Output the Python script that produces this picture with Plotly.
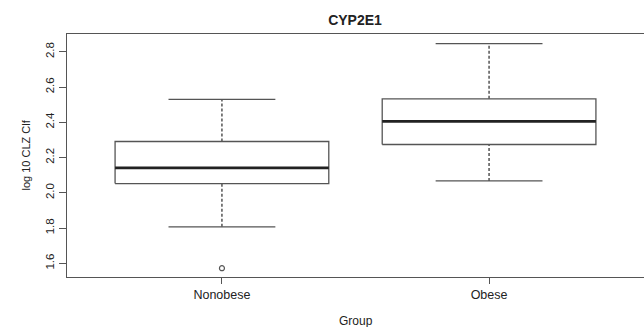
import plotly.graph_objects as go

# Data (log10 CLZ Cl/f)
groups = ["Nonobese", "Obese"]
positions = [1, 2]
lower_whisker = [1.807, 2.067]
q1 = [2.052, 2.274]
median = [2.141, 2.405]
q3 = [2.291, 2.533]
upper_whisker = [2.530, 2.846]
outlier_group = [1]
outlier_value = [1.572]

ytick_vals = [1.6, 1.8, 2.0, 2.2, 2.4, 2.6, 2.8]
ytick_text = ["1.6", "1.8", "2.0", "2.2", "2.4", "2.6", "2.8"]

LINE = "#3a3a3a"
BOX_HW = 0.4
CAP_HW = 0.2

fig = go.Figure()

for p, lw, a, m, b, uw in zip(positions, lower_whisker, q1, median, q3, upper_whisker):
    # whiskers (dashed)
    fig.add_trace(go.Scatter(x=[p, p], y=[b, uw], mode="lines",
                             line=dict(color=LINE, width=1.3, dash="3px,2px"),
                             showlegend=False, hoverinfo="skip"))
    fig.add_trace(go.Scatter(x=[p, p], y=[lw, a], mode="lines",
                             line=dict(color=LINE, width=1.3, dash="3px,2px"),
                             showlegend=False, hoverinfo="skip"))
    # caps
    fig.add_trace(go.Scatter(x=[p - CAP_HW, p + CAP_HW], y=[uw, uw], mode="lines",
                             line=dict(color="#555555", width=1.3),
                             showlegend=False, hoverinfo="skip"))
    fig.add_trace(go.Scatter(x=[p - CAP_HW, p + CAP_HW], y=[lw, lw], mode="lines",
                             line=dict(color="#555555", width=1.3),
                             showlegend=False, hoverinfo="skip"))
    # box
    fig.add_trace(go.Scatter(x=[p - BOX_HW, p + BOX_HW, p + BOX_HW, p - BOX_HW, p - BOX_HW],
                             y=[a, a, b, b, a], mode="lines",
                             line=dict(color="#555555", width=1.3),
                             showlegend=False, hoverinfo="skip"))
    # median
    fig.add_trace(go.Scatter(x=[p - BOX_HW, p + BOX_HW], y=[m, m], mode="lines",
                             line=dict(color="#222222", width=2.8),
                             showlegend=False, hoverinfo="skip"))

fig.add_trace(go.Scatter(x=outlier_group, y=outlier_value, mode="markers",
                         marker=dict(symbol="circle-open", size=5,
                                     color="#555555", line=dict(width=1.2)),
                         showlegend=False, hoverinfo="skip"))

FONT = "Liberation Sans, Arial, sans-serif"

fig.update_layout(
    width=644, height=327,
    margin=dict(l=67, r=0, t=34, b=50),
    paper_bgcolor="white", plot_bgcolor="white",
    font=dict(family=FONT, size=11, color="#222222"),
    title=dict(text="<b>CYP2E1</b>", x=355 / 644,
               xanchor="center", y=1 - 20 / 327, yanchor="middle", yref="container",
               font=dict(size=14, family=FONT, color="#222222")),
    xaxis=dict(range=[0.42, 2.58], tickvals=positions, ticktext=groups,
               showgrid=False, zeroline=False, showline=True, mirror=True,
               linecolor="#555555", linewidth=1.3, ticks="outside", ticklen=6,
               tickcolor="#555555", tickwidth=1.2, tickfont=dict(size=12.5)),
    yaxis=dict(range=[1.522, 2.901], tickvals=ytick_vals, ticktext=ytick_text,
               showgrid=False, zeroline=False, showline=True, mirror=False,
               linecolor="#555555", linewidth=1.3, ticks="outside", ticklen=7,
               tickcolor="#555555", tickwidth=1.2, tickangle=-90,
               tickfont=dict(size=11.5)),
    annotations=[
        dict(text="Group", xref="paper", yref="paper", x=0.5, y=0,
             yshift=-44, xanchor="center", yanchor="middle", showarrow=False,
             font=dict(size=12)),
        dict(text="log 10 CLZ Clf", xref="paper", yref="paper", x=0, y=0.5,
             xshift=-42, xanchor="center", yanchor="middle", showarrow=False,
             textangle=-90, font=dict(size=11)),
    ],
)

fig.write_html(
    "out.html",
    config={"displayModeBar": False},
    post_script="document.body.style.margin='0px';document.body.style.overflow='hidden';",
)
